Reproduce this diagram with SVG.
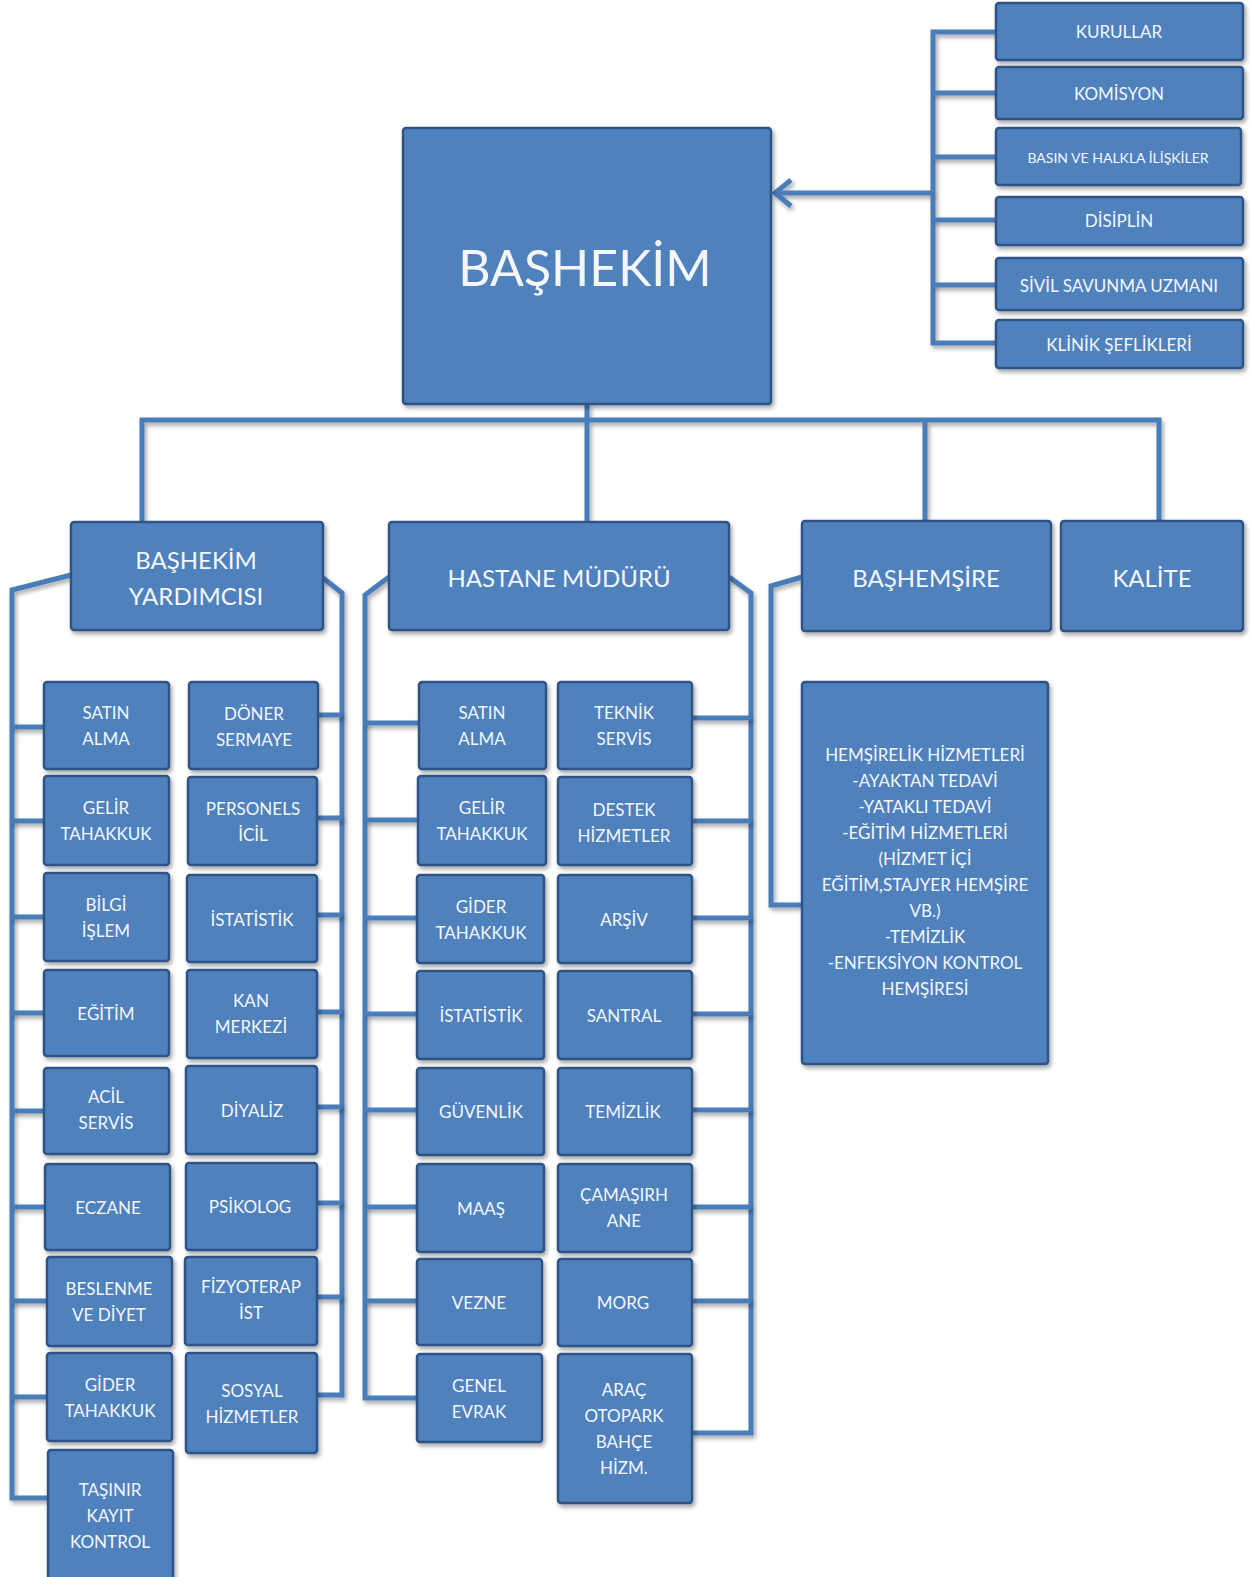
<svg xmlns="http://www.w3.org/2000/svg" width="1250" height="1577" viewBox="0 0 1250 1577">
<style>
.b{fill:#4F81BD;stroke:#2E5386;stroke-width:2.5;filter:url(#sh)}
.t{font-family:Lato,"Open Sans","Liberation Sans",sans-serif;fill:#F4F6FA;text-anchor:middle;dominant-baseline:central}
.s{font-size:17px}
.m{font-size:24px}
.c{fill:none;stroke:#4A7DBA;stroke-width:5;stroke-linejoin:miter;filter:url(#sh)}
</style>
<defs>
<filter id="sh" filterUnits="userSpaceOnUse" x="0" y="0" width="1250" height="1577">
<feDropShadow dx="2" dy="3" stdDeviation="2" flood-color="#000" flood-opacity="0.35"/>
</filter>
<marker id="arr" viewBox="-20 -20 40 40" refX="0" refY="0" markerWidth="40" markerHeight="40" markerUnits="userSpaceOnUse" orient="auto" overflow="visible">
<path d="M-16,-13 L0,0 L-16,13" fill="none" stroke="#4A7DBA" stroke-width="5"/>
</marker>
</defs>
<rect width="1250" height="1577" fill="#fff"/>
<g id="connectors">
<path class="c" d="M933,193 H775" marker-end="url(#arr)"/>
<path class="c" d="M998,32 H933 V343 H998"/>
<path class="c" d="M933,93 H998 M933,157 H998 M933,220 H998 M933,285 H998"/>
<path class="c" d="M587,404 V522 M142,522 V420 H1159 V521 M925,420 V521"/>
<path class="c" d="M71,575 L12,590 V1498 H48"/>
<path class="c" d="M12,727 H44 M12,821 H44 M12,917 H44 M12,1013 H44 M12,1111 H44 M12,1207 H45 M12,1301 H47 M12,1397 H47"/>
<path class="c" d="M323,578 L342,593 V1395 H317"/>
<path class="c" d="M318,715 H342 M317,818 H342 M317,915 H342 M317,1012 H342 M317,1107 H342 M317,1203 H342 M317,1297 H342"/>
<path class="c" d="M389,577 L365,595 V1398 H417"/>
<path class="c" d="M365,723 H419 M365,820 H418 M365,918 H417 M365,1014 H417 M365,1110 H417 M365,1207 H417 M365,1301 H417"/>
<path class="c" d="M729,577 L751,593 V1433 H692"/>
<path class="c" d="M692,718 H751 M692,821 H751 M692,918 H751 M692,1014 H751 M692,1110 H751 M692,1207 H751 M692,1301 H751"/>
<path class="c" d="M802,577 L771,586 V905 H802"/>
</g>
<g id="n-bashekim"><rect class="b" x="403" y="128" width="368" height="276" rx="3"/><text class="t" x="585" y="267" font-size="50">BAŞHEKİM</text></g>
<g id="n-kurullar"><rect class="b" x="996" y="3" width="247" height="57" rx="3"/><text class="t s" x="1119" y="31">KURULLAR</text></g>
<g id="n-komisyon"><rect class="b" x="996" y="67" width="247" height="52" rx="3"/><text class="t s" x="1119" y="93">KOMİSYON</text></g>
<g id="n-basin"><rect class="b" x="996" y="128" width="245" height="57" rx="3"/><text class="t" x="1118" y="157" font-size="14">BASIN VE HALKLA İLİŞKİLER</text></g>
<g id="n-disiplin"><rect class="b" x="996" y="197" width="247" height="48" rx="3"/><text class="t s" x="1119" y="220">DİSİPLİN</text></g>
<g id="n-sivil"><rect class="b" x="996" y="258" width="247" height="52" rx="3"/><text class="t s" x="1119" y="285">SİVİL SAVUNMA UZMANI</text></g>
<g id="n-klinik"><rect class="b" x="996" y="320" width="247" height="48" rx="3"/><text class="t s" x="1119" y="344">KLİNİK ŞEFLİKLERİ</text></g>
<g id="n-by"><rect class="b" x="71" y="522" width="252" height="108" rx="3"/><text class="t m" x="196" y="559">BAŞHEKİM</text><text class="t m" x="196" y="595">YARDIMCISI</text></g>
<g id="n-hm"><rect class="b" x="389" y="522" width="340" height="108" rx="3"/><text class="t m" x="559" y="577">HASTANE MÜDÜRÜ</text></g>
<g id="n-bh"><rect class="b" x="802" y="521" width="249" height="110" rx="3"/><text class="t m" x="926" y="577">BAŞHEMŞİRE</text></g>
<g id="n-kalite"><rect class="b" x="1061" y="521" width="182" height="110" rx="3"/><text class="t m" x="1152" y="577">KALİTE</text></g>
<g id="n-hem"><rect class="b" x="802" y="682" width="246" height="382" rx="3"/>
<text class="t s" x="925"><tspan x="925" y="754">HEMŞİRELİK HİZMETLERİ</tspan><tspan x="925" y="780">-AYAKTAN TEDAVİ</tspan><tspan x="925" y="806">-YATAKLI TEDAVİ</tspan><tspan x="925" y="832">-EĞİTİM HİZMETLERİ</tspan><tspan x="925" y="858">(HİZMET İÇİ</tspan><tspan x="925" y="884">EĞİTİM,STAJYER HEMŞİRE</tspan><tspan x="925" y="910">VB.)</tspan><tspan x="925" y="936">-TEMİZLİK</tspan><tspan x="925" y="962">-ENFEKSİYON KONTROL</tspan><tspan x="925" y="988">HEMŞİRESİ</tspan></text></g>
<g id="n-l1"><rect class="b" x="44" y="682" width="125" height="87" rx="3"/><text class="t s" x="106"><tspan x="106" y="712">SATIN</tspan><tspan x="106" y="738">ALMA</tspan></text></g>
<g id="n-l2"><rect class="b" x="44" y="776" width="125" height="89" rx="3"/><text class="t s" x="106"><tspan x="106" y="807">GELİR</tspan><tspan x="106" y="833">TAHAKKUK</tspan></text></g>
<g id="n-l3"><rect class="b" x="44" y="873" width="125" height="88" rx="3"/><text class="t s" x="106"><tspan x="106" y="904">BİLGİ</tspan><tspan x="106" y="930">İŞLEM</tspan></text></g>
<g id="n-l4"><rect class="b" x="44" y="970" width="125" height="86" rx="3"/><text class="t s" x="106" y="1013">EĞİTİM</text></g>
<g id="n-l5"><rect class="b" x="44" y="1068" width="125" height="86" rx="3"/><text class="t s" x="106"><tspan x="106" y="1096">ACİL</tspan><tspan x="106" y="1122">SERVİS</tspan></text></g>
<g id="n-l6"><rect class="b" x="45" y="1164" width="125" height="86" rx="3"/><text class="t s" x="108" y="1207">ECZANE</text></g>
<g id="n-l7"><rect class="b" x="47" y="1257" width="125" height="89" rx="3"/><text class="t s" x="109"><tspan x="109" y="1288">BESLENME</tspan><tspan x="109" y="1314">VE DİYET</tspan></text></g>
<g id="n-l8"><rect class="b" x="47" y="1353" width="125" height="88" rx="3"/><text class="t s" x="110"><tspan x="110" y="1384">GİDER</tspan><tspan x="110" y="1410">TAHAKKUK</tspan></text></g>
<g id="n-l9"><rect class="b" x="48" y="1450" width="125" height="130" rx="3"/><text class="t s" x="110"><tspan x="110" y="1489">TAŞINIR</tspan><tspan x="110" y="1515">KAYIT</tspan><tspan x="110" y="1541">KONTROL</tspan></text></g>
<g id="n-r1"><rect class="b" x="189" y="682" width="129" height="87" rx="3"/><text class="t s" x="254"><tspan x="254" y="713">DÖNER</tspan><tspan x="254" y="739">SERMAYE</tspan></text></g>
<g id="n-r2"><rect class="b" x="188" y="777" width="129" height="88" rx="3"/><text class="t s" x="253"><tspan x="253" y="808">PERSONELS</tspan><tspan x="253" y="834">İCİL</tspan></text></g>
<g id="n-r3"><rect class="b" x="187" y="875" width="130" height="87" rx="3"/><text class="t s" x="252" y="919">İSTATİSTİK</text></g>
<g id="n-r4"><rect class="b" x="187" y="970" width="130" height="88" rx="3"/><text class="t s" x="251"><tspan x="251" y="1000">KAN</tspan><tspan x="251" y="1026">MERKEZİ</tspan></text></g>
<g id="n-r5"><rect class="b" x="186" y="1066" width="131" height="88" rx="3"/><text class="t s" x="252" y="1110">DİYALİZ</text></g>
<g id="n-r6"><rect class="b" x="186" y="1163" width="131" height="87" rx="3"/><text class="t s" x="250" y="1206">PSİKOLOG</text></g>
<g id="n-r7"><rect class="b" x="185" y="1257" width="132" height="88" rx="3"/><text class="t s" x="251"><tspan x="251" y="1286">FİZYOTERAP</tspan><tspan x="251" y="1312">İST</tspan></text></g>
<g id="n-r8"><rect class="b" x="186" y="1353" width="131" height="100" rx="3"/><text class="t s" x="252"><tspan x="252" y="1390">SOSYAL</tspan><tspan x="252" y="1416">HİZMETLER</tspan></text></g>
<g id="n-m1"><rect class="b" x="419" y="682" width="127" height="87" rx="3"/><text class="t s" x="482"><tspan x="482" y="712">SATIN</tspan><tspan x="482" y="738">ALMA</tspan></text></g>
<g id="n-m2"><rect class="b" x="418" y="776" width="128" height="89" rx="3"/><text class="t s" x="482"><tspan x="482" y="807">GELİR</tspan><tspan x="482" y="833">TAHAKKUK</tspan></text></g>
<g id="n-m3"><rect class="b" x="417" y="875" width="127" height="88" rx="3"/><text class="t s" x="481"><tspan x="481" y="906">GİDER</tspan><tspan x="481" y="932">TAHAKKUK</tspan></text></g>
<g id="n-m4"><rect class="b" x="417" y="971" width="127" height="88" rx="3"/><text class="t s" x="481" y="1015">İSTATİSTİK</text></g>
<g id="n-m5"><rect class="b" x="417" y="1068" width="127" height="87" rx="3"/><text class="t s" x="481" y="1111">GÜVENLİK</text></g>
<g id="n-m6"><rect class="b" x="417" y="1164" width="127" height="88" rx="3"/><text class="t s" x="481" y="1208">MAAŞ</text></g>
<g id="n-m7"><rect class="b" x="417" y="1259" width="125" height="86" rx="3"/><text class="t s" x="479" y="1302">VEZNE</text></g>
<g id="n-m8"><rect class="b" x="417" y="1354" width="125" height="88" rx="3"/><text class="t s" x="479"><tspan x="479" y="1385">GENEL</tspan><tspan x="479" y="1411">EVRAK</tspan></text></g>
<g id="n-n1"><rect class="b" x="558" y="682" width="134" height="87" rx="3"/><text class="t s" x="624"><tspan x="624" y="712">TEKNİK</tspan><tspan x="624" y="738">SERVİS</tspan></text></g>
<g id="n-n2"><rect class="b" x="558" y="777" width="134" height="88" rx="3"/><text class="t s" x="624"><tspan x="624" y="809">DESTEK</tspan><tspan x="624" y="835">HİZMETLER</tspan></text></g>
<g id="n-n3"><rect class="b" x="558" y="875" width="134" height="88" rx="3"/><text class="t s" x="624" y="919">ARŞİV</text></g>
<g id="n-n4"><rect class="b" x="558" y="971" width="134" height="88" rx="3"/><text class="t s" x="624" y="1015">SANTRAL</text></g>
<g id="n-n5"><rect class="b" x="558" y="1068" width="134" height="87" rx="3"/><text class="t s" x="623" y="1111">TEMİZLİK</text></g>
<g id="n-n6"><rect class="b" x="558" y="1164" width="134" height="88" rx="3"/><text class="t s" x="624"><tspan x="624" y="1194">ÇAMAŞIRH</tspan><tspan x="624" y="1220">ANE</tspan></text></g>
<g id="n-n7"><rect class="b" x="558" y="1259" width="134" height="87" rx="3"/><text class="t s" x="623" y="1302">MORG</text></g>
<g id="n-n8"><rect class="b" x="558" y="1354" width="134" height="149" rx="3"/><text class="t s" x="624"><tspan x="624" y="1389">ARAÇ</tspan><tspan x="624" y="1415">OTOPARK</tspan><tspan x="624" y="1441">BAHÇE</tspan><tspan x="624" y="1467">HİZM.</tspan></text></g>
</svg>
